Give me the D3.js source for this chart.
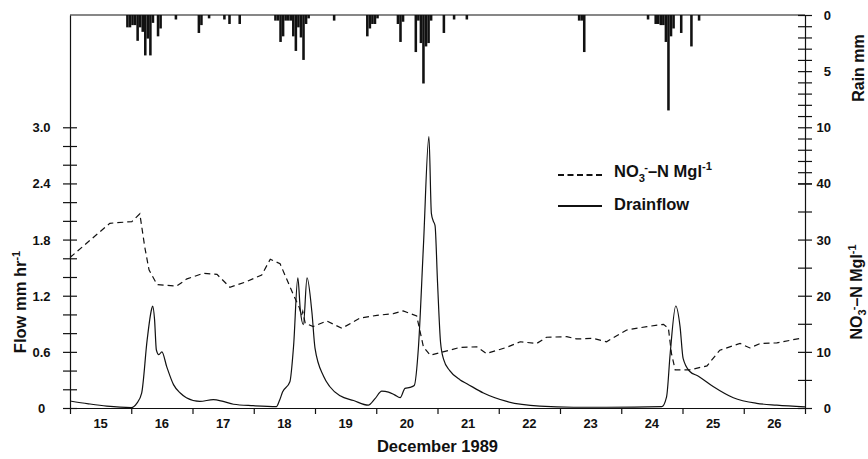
<!DOCTYPE html>
<html><head><meta charset="utf-8">
<script src="https://cdn.jsdelivr.net/npm/d3@7"></script>
<style>
html,body{margin:0;padding:0;background:#fff;}
svg{display:block;font-family:"Liberation Sans",Arial,Helvetica,sans-serif;font-weight:bold;}
</style></head>
<body>
<svg id="chart" width="868" height="459"></svg>
<script>
// ---- data ----
const dayTicks = [15,16,17,18,19,20,21,22,23,24,25,26,27];
const dayLabels = ["15","16","17","18","19","20","21","22","23","24","25","26"];
const flowTicks = [0,0.2,0.4,0.6,0.8,1.0,1.2,1.4,1.6,1.8,2.0,2.2,2.4,2.6,2.8,3.0];
const flowLabels = [0,0.6,1.2,1.8,2.4,3.0];
const no3Ticks = [0,5,10,15,20,25,30,35,40];
const no3Labels = [0,10,20,30,40];
const rainTicks = [0,1,2,3,4,5,6,7,8,9,10,11,12,13,14,15];
const rainLabels = [0,5,10];

const flowDay = [15.00,15.30,15.60,16.00,16.09,16.17,16.26,16.33,16.35,16.38,16.41,16.45,16.50,16.58,16.69,16.80,16.90,17.12,17.34,17.50,17.67,17.99,18.37,18.42,18.47,18.59,18.65,18.72,18.76,18.81,18.87,18.95,19.00,19.14,19.24,19.41,19.63,19.87,19.98,20.09,20.20,20.30,20.39,20.47,20.55,20.62,20.69,20.77,20.86,20.90,20.93,20.96,21.00,21.05,21.10,21.20,21.37,21.48,21.75,22.13,22.67,23.22,23.76,24.66,24.74,24.80,24.89,24.96,25.01,25.12,25.26,25.50,25.83,26.21,26.54,27.00];
const flowValue = [0.075,0.045,0.02,0.005,0.05,0.16,0.73,1.05,1.09,0.95,0.62,0.57,0.60,0.44,0.25,0.16,0.11,0.07,0.09,0.07,0.04,0.025,0.015,0.08,0.17,0.28,0.66,1.39,1.05,0.89,1.39,1.02,0.64,0.34,0.23,0.13,0.08,0.03,0.10,0.18,0.17,0.14,0.11,0.21,0.22,0.24,0.66,1.73,2.90,2.08,2.00,1.95,1.35,0.70,0.52,0.40,0.30,0.26,0.16,0.07,0.02,0.008,0.008,0.014,0.12,0.59,1.09,0.87,0.53,0.39,0.34,0.23,0.11,0.05,0.03,0.012];

const no3Day = [15.00,15.33,15.65,16.01,16.14,16.22,16.29,16.42,16.74,16.91,17.18,17.40,17.61,17.88,18.13,18.27,18.43,18.65,18.74,18.78,18.80,18.84,18.97,19.19,19.44,19.73,20.01,20.28,20.44,20.66,20.77,20.88,21.09,21.37,21.64,21.80,22.13,22.35,22.62,22.78,23.11,23.27,23.54,23.76,24.09,24.42,24.69,24.77,24.82,24.88,25.12,25.40,25.61,25.94,26.10,26.27,26.54,26.92];
const no3Value = [26.8,29.9,32.9,33.2,34.6,28.7,24.6,22.0,21.7,23.0,24.0,23.8,21.5,22.5,23.7,26.5,25.7,20.1,18.0,16.5,17.2,15.1,14.5,15.5,14.2,16.0,16.5,16.8,17.3,16.4,10.9,9.4,10.0,10.8,10.9,9.7,10.8,11.8,11.5,12.6,12.7,12.3,12.4,11.8,13.9,14.5,14.9,14.2,9.7,6.8,6.8,7.5,10.3,11.5,10.7,11.5,11.6,12.4];

// rain: hour index counted from 00:00 on 15 December, and mm in that hour
const rainHour = [22,23,24,25,26,27,28,29,30,31,32,34,35,41,50,51,54,60,62,66,80,81,82,83,84,85,86,87,88,89,90,91,92,93,103,116,117,118,119,120,128,129,130,135,136,137,138,139,140,141,146,150,155,199,200,201,226,229,230,231,232,233,234,235,236,239,243,246];
const rainMm   = [1.1,1.1,0.9,0.9,2.3,1.1,1.5,3.6,2.1,3.6,0.7,1.9,1.2,0.4,1.6,0.9,0.3,0.4,0.8,0.8,0.5,0.5,2.4,1.9,0.5,0.5,0.5,1.9,3.2,1.1,2.0,4.0,0.8,0.3,0.5,1.9,1.2,0.8,0.8,0.3,0.8,2.4,0.6,3.3,0.5,2.5,6.1,2.8,2.5,0.5,1.6,0.4,0.4,0.5,0.5,3.3,0.4,0.8,0.8,0.9,0.9,2.4,8.5,1.9,1.2,1.6,2.8,0.5];

// ---- layout ----
const svg = d3.select("#chart");
const L = 70, R = 805, T = 15, B = 408;
const ink = "#111";

const x = d3.scaleLinear().domain([15, 27]).range([L, R]);
const yFlow = d3.scaleLinear().domain([0, 4.2]).range([B, T]);
const yNo3 = d3.scaleLinear().domain([0, 40]).range([B, yFlow(2.4)]);
const yRain = d3.scaleLinear().domain([0, 15]).range([T, yFlow(2.4)]);

// frame top
svg.append("line").attr("x1", L).attr("x2", R).attr("y1", T).attr("y2", T)
  .attr("stroke", ink).attr("stroke-width", 1.2);

// rain bars
const hourW = x(15 + 1/24) - x(15);
svg.append("g").selectAll("rect").data(rainHour.map((h, i) => ({h, mm: rainMm[i]})))
  .join("rect")
  .attr("x", d => x(15 + d.h / 24))
  .attr("width", hourW)
  .attr("y", yRain(0))
  .attr("height", d => yRain(d.mm) - yRain(0))
  .attr("fill", ink);

// helper to make crossing ticks
function crossTicks(g, len) {
  g.selectAll(".tick line").attr("x1", -len).attr("x2", len).attr("stroke", ink).attr("stroke-width", 1.2);
  g.select(".domain").attr("stroke", ink).attr("stroke-width", 1.2);
}

// left flow axis
const gL = svg.append("g").attr("transform", `translate(${L},0)`)
  .call(d3.axisLeft(yFlow).tickValues(flowTicks).tickSize(7).tickSizeOuter(0).tickFormat(""));
crossTicks(gL, 7);
svg.append("g").selectAll("text").data(flowLabels).join("text")
  .attr("x", 41.5).attr("y", d => yFlow(d) + 5)
  .attr("text-anchor", "middle").attr("font-size", 13).attr("fill", ink)
  .text(d => d === 0 ? "0" : d3.format(".1f")(d));

// right NO3 axis (lower part) + rain axis (upper part)
const gR1 = svg.append("g").attr("transform", `translate(${R},0)`)
  .call(d3.axisRight(yNo3).tickValues(no3Ticks).tickSize(7).tickSizeOuter(0).tickFormat(""));
crossTicks(gR1, 7);
const gR2 = svg.append("g").attr("transform", `translate(${R},0)`)
  .call(d3.axisRight(yRain).tickValues(rainTicks).tickSize(7).tickSizeOuter(0).tickFormat(""));
crossTicks(gR2, 7);
svg.append("g").selectAll("text").data(no3Labels).join("text")
  .attr("x", 831).attr("y", d => yNo3(d) + 5)
  .attr("text-anchor", "end").attr("font-size", 13).attr("fill", ink)
  .text(d => d);
svg.append("g").selectAll("text").data(rainLabels).join("text")
  .attr("x", 831).attr("y", d => yRain(d) + 5)
  .attr("text-anchor", "end").attr("font-size", 13).attr("fill", ink)
  .text(d => d);

// bottom axis
const gB = svg.append("g").attr("transform", `translate(0,${B})`)
  .call(d3.axisBottom(x).tickValues(dayTicks).tickSize(6).tickSizeOuter(0).tickFormat(""));
gB.selectAll(".tick line").attr("stroke", ink).attr("stroke-width", 1.2);
gB.select(".domain").attr("stroke", ink).attr("stroke-width", 1.2);
svg.append("g").selectAll("text").data(dayLabels).join("text")
  .attr("x", d => x(+d + 0.5)).attr("y", 428)
  .attr("text-anchor", "middle").attr("font-size", 13).attr("fill", ink)
  .text(d => d);

// axis titles
svg.append("text").attr("x", (L + R) / 2).attr("y", 452).attr("text-anchor", "middle")
  .attr("font-size", 16.5).attr("fill", ink).text("December 1989");

const tFlow = svg.append("text").attr("transform", "translate(26,302) rotate(-90)")
  .attr("text-anchor", "middle").attr("font-size", 16.5).attr("fill", ink);
tFlow.append("tspan").text("Flow mm hr");
tFlow.append("tspan").attr("font-size", 11).attr("dy", -6).text("-1");

svg.append("text").attr("transform", "translate(864,68) rotate(-90)")
  .attr("text-anchor", "middle").attr("font-size", 16).attr("fill", ink).text("Rain mm");

function no3Label(sel, fs) {
  sel.append("tspan").text("NO");
  sel.append("tspan").attr("font-size", fs * 0.68).attr("dy", fs * 0.28).text("3");
  sel.append("tspan").attr("font-size", fs * 0.68).attr("dx", -fs * 0.05).attr("dy", -fs * 0.62).text("-");
  sel.append("tspan").attr("dy", fs * 0.34).text("\u2013N Mgl");
  sel.append("tspan").attr("font-size", fs * 0.68).attr("dy", -fs * 0.4).text("-1");
}
const tNo3 = svg.append("text").attr("transform", "translate(862,292) rotate(-90)")
  .attr("text-anchor", "middle").attr("font-size", 16).attr("fill", ink);
no3Label(tNo3, 16);

// lines
const flowLine = d3.line().x(d => x(d[0])).y(d => yFlow(d[1])).curve(d3.curveMonotoneX);
svg.append("path").datum(flowDay.map((d, i) => [d, flowValue[i]]))
  .attr("d", flowLine).attr("fill", "none").attr("stroke", ink).attr("stroke-width", 1.2);

const no3Line = d3.line().x(d => x(d[0])).y(d => yNo3(d[1]));
svg.append("path").datum(no3Day.map((d, i) => [d, no3Value[i]]))
  .attr("d", no3Line).attr("fill", "none").attr("stroke", ink).attr("stroke-width", 1.2)
  .attr("stroke-dasharray", "6,4");

// legend
svg.append("line").attr("x1", 558).attr("x2", 602).attr("y1", 175).attr("y2", 175)
  .attr("stroke", ink).attr("stroke-width", 2).attr("stroke-dasharray", "6,3.5");
const lg1 = svg.append("text").attr("x", 614).attr("y", 177).attr("font-size", 16.5).attr("fill", ink);
no3Label(lg1, 16.5);
svg.append("line").attr("x1", 558).attr("x2", 602).attr("y1", 206).attr("y2", 206)
  .attr("stroke", ink).attr("stroke-width", 2);
svg.append("text").attr("x", 614).attr("y", 210).attr("font-size", 16.5).attr("fill", ink).text("Drainflow");
</script>
</body></html>
